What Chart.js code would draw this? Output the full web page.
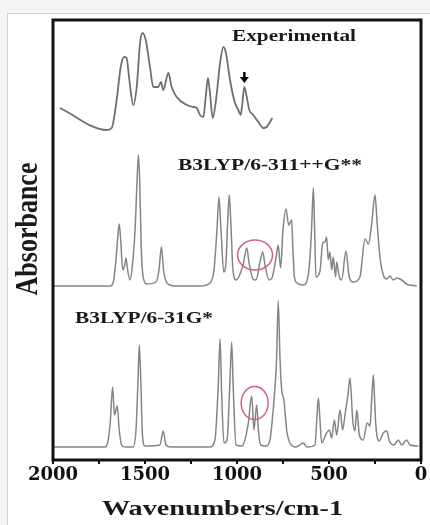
<!DOCTYPE html>
<html lang="en">

<head>
  <meta charset="UTF-8">
  <title>IR spectra</title>
  <script src="https://cdn.jsdelivr.net/npm/chart.js"></script>
  <style>
    body { margin: 0; background: #f4f4f2; }
    .painel { position: absolute; left: 7px; top: 13px; right: 0; bottom: 0; background: #fff; border-left: 1px solid #d0d0d0; border-top: 1px solid #d0d0d0; }
    .grafico { position: absolute; left: 0; top: 0; width: 430px; height: 525px; }
  </style>
</head>

<body>
  <div class="painel"></div>
  <div class="grafico"><canvas id="myChart"></canvas></div>

<script>
  // espectro experimental (numero de onda, absorbancia)
  var expWn = [1962, 1708, 1681, 1654, 1632, 1614, 1600, 1585, 1564, 1545, 1527, 1513, 1496, 1473, 1455, 1428, 1413, 1401, 1373, 1355,
    1328, 1273, 1238, 1219, 1201, 1183, 1170, 1158, 1147, 1132, 1114, 1092, 1074, 1060, 1038, 1011, 993, 980, 973, 960,
    947, 933, 911, 884, 857, 839, 808];
  var expAbs = [0.27, 0.05, 0.07, 0.35, 0.68, 0.78, 0.77, 0.55, 0.30, 0.48, 0.92, 1.02, 0.95, 0.68, 0.48, 0.48, 0.53, 0.45, 0.62, 0.48,
    0.38, 0.30, 0.28, 0.27, 0.20, 0.18, 0.38, 0.57, 0.42, 0.17, 0.35, 0.72, 0.88, 0.82, 0.55, 0.32, 0.25, 0.20, 0.28, 0.48,
    0.38, 0.25, 0.20, 0.13, 0.07, 0.08, 0.17];

  // B3LYP/6-311++G**
  var b311Wn = [2000, 1690, 1672, 1658, 1647, 1640, 1632, 1621, 1610, 1603, 1596, 1582, 1571, 1554, 1542, 1536, 1529, 1520, 1509, 1489,
    1440, 1424, 1411, 1398, 1380, 1337, 1201, 1147, 1125, 1109, 1098, 1087, 1072, 1060, 1049, 1042, 1033, 1022, 1005, 967,
    947, 935, 913, 897, 875, 860, 848, 826, 810, 788, 776, 763, 750, 734, 719, 703, 696, 688, 674, 640,
    609, 595, 585, 578, 571, 549, 534, 522, 513, 504, 495, 485, 477, 464, 458, 444, 431, 408, 390, 368,
    332, 304, 286, 268, 250, 238, 223, 205, 186, 168, 151, 132, 105, 78, 23];
  var b311Abs = [0, 0, 0.04, 0.26, 0.51, 0.62, 0.46, 0.16, 0.21, 0.28, 0.18, 0.06, 0.16, 0.56, 1.11, 1.31, 1.06, 0.36, 0.08, 0.02,
    0.04, 0.16, 0.39, 0.14, 0.03, 0, 0, 0.03, 0.16, 0.56, 0.89, 0.56, 0.14, 0.24, 0.71, 0.91, 0.61, 0.16, 0.06, 0.21,
    0.38, 0.24, 0.07, 0.06, 0.24, 0.34, 0.21, 0.06, 0.08, 0.28, 0.41, 0.18, 0.56, 0.77, 0.61, 0.66, 0.36, 0.09, 0.03, 0.01,
    0.16, 0.56, 0.98, 0.56, 0.09, 0.15, 0.43, 0.44, 0.49, 0.26, 0.34, 0.16, 0.29, 0.09, 0.24, 0.09, 0.06, 0.35, 0.09, 0.04,
    0.09, 0.47, 0.42, 0.62, 0.91, 0.62, 0.29, 0.11, 0.07, 0.10, 0.06, 0.08, 0.06, 0.02, 0];

  // B3LYP/6-31G*
  var b31Wn = [2000, 1717, 1700, 1688, 1676, 1666, 1651, 1640, 1627, 1609, 1565, 1549, 1538, 1531, 1523, 1514, 1500, 1419, 1401, 1386,
    1364, 1147, 1120, 1103, 1092, 1084, 1071, 1054, 1038, 1029, 1020, 1005, 973, 940, 920, 908, 893, 883, 871, 842,
    821, 799, 785, 776, 766, 757, 745, 730, 712, 679, 640, 620, 576, 565, 558, 549, 540, 513, 498, 485,
    471, 458, 440, 426, 413, 397, 386, 371, 359, 349, 335, 314, 292, 277, 268, 259, 252, 245, 227, 205,
    186, 172, 147, 123, 105, 78, 60, 15];
  var b31Abs = [0, 0, 0.07, 0.27, 0.60, 0.32, 0.41, 0.17, 0.02, 0, 0, 0.17, 0.67, 1.02, 0.67, 0.12, 0.01, 0.02, 0.16, 0.02,
    0, 0, 0.07, 0.57, 1.08, 0.57, 0.04, 0.07, 0.67, 1.05, 0.57, 0.02, 0.01, 0.22, 0.51, 0.17, 0.42, 0.15, 0.02, 0.01,
    0.07, 0.47, 0.87, 1.46, 0.87, 0.57, 0.47, 0.17, 0.04, 0, 0.04, 0, 0.02, 0.32, 0.49, 0.27, 0.04, 0.14, 0.17, 0.09,
    0.27, 0.12, 0.37, 0.17, 0.32, 0.52, 0.69, 0.27, 0.16, 0.37, 0.12, 0.07, 0.24, 0.21, 0.47, 0.72, 0.47, 0.21, 0.06, 0.14,
    0.16, 0.06, 0.02, 0.07, 0.02, 0.07, 0.02, 0.01];

  var rotulosX = [2000, 1500, 1000, 500, 0];
</script>

<script>
  // cada espectro fica empilhado com um deslocamento vertical
  var deslocamentos = [3.25, 1.74, 0.13];

  function montarSerie(wn, abs, desloc) {
    var pontos = [];
    for (var i = 0; i < wn.length; i++) {
      pontos.push({ x: wn[i], y: abs[i] + desloc });
    }
    return pontos;
  }

  // texto em serifa "esticado" na horizontal, como na figura original
  function escrever(ctx, texto, x, y, tamanho, largura) {
    ctx.save();
    ctx.font = 'bold ' + tamanho + 'px "Liberation Serif"';
    var w = ctx.measureText(texto).width;
    ctx.translate(x, y);
    ctx.scale(largura / w, 1);
    ctx.textAlign = 'left';
    ctx.textBaseline = 'alphabetic';
    ctx.fillText(texto, 0, 0);
    ctx.restore();
  }

  var anotacoes = {
    id: 'anotacoes',
    afterDraw: function (chart) {
      var ctx = chart.ctx;
      var a = chart.chartArea;
      var sx = chart.scales.x;
      var sy = chart.scales.y;
      ctx.save();

      // moldura
      ctx.strokeStyle = '#111';
      ctx.lineWidth = 3;
      ctx.strokeRect(a.left, a.top, a.right - a.left, a.bottom - a.top);

      // circulos vermelhos
      ctx.strokeStyle = '#d0647e';
      ctx.lineWidth = 1.5;
      ctx.beginPath();
      ctx.ellipse(sx.getPixelForValue(902), sy.getPixelForValue(2.05), 17.5, 15, 0, 0, 2 * Math.PI);
      ctx.stroke();
      ctx.beginPath();
      ctx.ellipse(sx.getPixelForValue(904), sy.getPixelForValue(0.57), 13.5, 16.5, 0, 0, 2 * Math.PI);
      ctx.stroke();

      // seta sobre o pico experimental
      var ax = sx.getPixelForValue(960);
      var ay = sy.getPixelForValue(3.77);
      ctx.strokeStyle = '#000';
      ctx.fillStyle = '#000';
      ctx.lineWidth = 2.5;
      ctx.beginPath();
      ctx.moveTo(ax, ay - 11);
      ctx.lineTo(ax, ay - 5);
      ctx.stroke();
      ctx.beginPath();
      ctx.moveTo(ax - 4.5, ay - 6);
      ctx.lineTo(ax + 4.5, ay - 6);
      ctx.lineTo(ax, ay);
      ctx.closePath();
      ctx.fill();

      // textos
      ctx.fillStyle = '#1a1a1a';
      escrever(ctx, 'Experimental', 232, 40.5, 16, 124);
      escrever(ctx, 'B3LYP/6-311++G**', 178, 169.5, 17, 184);
      escrever(ctx, 'B3LYP/6-31G*', 75, 322.5, 17, 138);
      escrever(ctx, 'Wavenumbers/cm-1', 102, 515, 22, 241);

      // titulo do eixo y (girado)
      ctx.save();
      ctx.font = 'bold 26px "Liberation Serif"';
      ctx.translate(37, 229);
      ctx.rotate(-Math.PI / 2);
      ctx.scale(1, 1.25);
      ctx.textAlign = 'center';
      ctx.textBaseline = 'alphabetic';
      ctx.fillText('Absorbance', 0, 0);
      ctx.restore();

      ctx.restore();
    }
  };

  var estilo = { borderWidth: 1.5, pointRadius: 0, cubicInterpolationMode: 'monotone', fill: false };

  const ctx = document.getElementById('myChart');

  new Chart(ctx, {
    type: 'line',
    data: {
      datasets: [
        Object.assign({ label: 'Experimental', data: montarSerie(expWn, expAbs, deslocamentos[0]), borderColor: '#6f6f6f', borderWidth: 1.8 }, estilo, { borderWidth: 1.8 }),
        Object.assign({ label: 'B3LYP/6-311++G**', data: montarSerie(b311Wn, b311Abs, deslocamentos[1]), borderColor: '#858585' }, estilo),
        Object.assign({ label: 'B3LYP/6-31G*', data: montarSerie(b31Wn, b31Abs, deslocamentos[2]), borderColor: '#858585' }, estilo)
      ]
    },
    options: {
      responsive: true,
      maintainAspectRatio: false,
      animation: false,
      layout: { padding: { left: 0, right: 9, top: 20, bottom: 0 } },
      plugins: { legend: { display: false }, tooltip: { enabled: false } },
      scales: {
        x: {
          type: 'linear',
          reverse: true,
          min: 0,
          max: 2000,
          border: { display: false },
          grid: { drawOnChartArea: false, drawTicks: true, tickLength: 4, color: '#111', lineWidth: 2 },
          ticks: {
            stepSize: 250,
            autoSkip: false,
            maxRotation: 0,
            padding: 1,
            color: '#111',
            font: { family: 'DejaVu Serif', weight: 'bold', size: 18 },
            callback: function (value) {
              return rotulosX.indexOf(value) >= 0 ? String(value) : '';
            }
          },
          afterFit: function (scale) { scale.height = 65; }
        },
        y: {
          min: 0,
          max: 4.4,
          border: { display: false },
          grid: { display: false },
          ticks: { display: false },
          afterFit: function (scale) { scale.width = 53; }
        }
      }
    },
    plugins: [anotacoes]
  });
</script>
</body>

</html>
